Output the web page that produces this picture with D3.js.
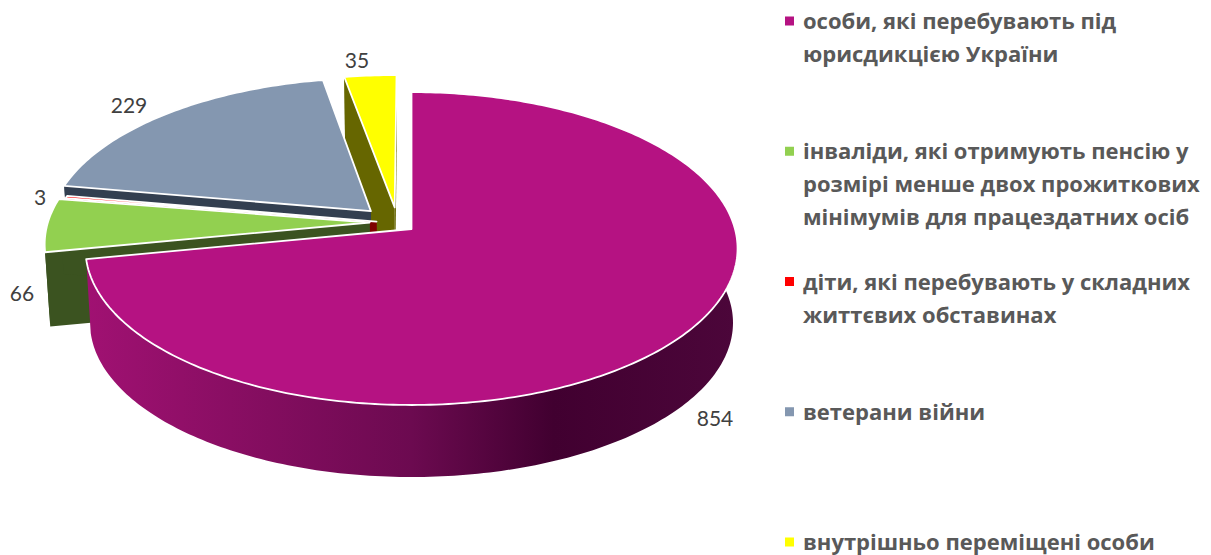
<html>
  <meta charset="utf-8" />
  <script src="https://d3js.org/d3.v7.min.js"></script>
  <style>
    body { margin: 0; background: #fff; }
    svg { display: block; }
  </style>
  <body>
    <div id="my_dataviz"></div>

    <script>
      const categories = [
        ["особи, які перебувають під", "юрисдикцією України"],
        ["інваліди, які отримують пенсію у", "розмірі менше двох прожиткових", "мінімумів для працездатних осіб"],
        ["діти, які перебувають у складних", "життєвих обставинах"],
        ["ветерани війни"],
        ["внутрішньо переміщені особи"],
      ];
      const values = [854, 66, 3, 229, 35];
      const topColors = ["#b51282", "#92d050", "#ff0000", "#8497b0", "#ffff00"];
      const wallColors = ["#6d0b50", "#3b5320", "#7f0000", "#333f50", "#666600"];

      // where the value labels sit, by slice
      const labelX = [715, 22, 40, 129, 357];
      const labelY = [418, 293, 197, 105, 60];

      const width = 1211;
      const height = 555;

      // the tilted disc: a circle seen in perspective
      const cx = 411.5;
      const cy = 229;
      const R = 323.5;
      const q = 154;
      const k = 0.125;

      // bottom face is a bit further from the viewer
      const bottomScale = 0.986;
      const bottomDrop = 74.5;

      // explosion, slices move away from this centre (main slice stays put)
      const pieX = -0.045;
      const pieY = -0.058;
      const explode = 0.085;
      // small corrections per slice, the fit is not perfect
      const nudgeX = [0, 0, 0.02, -0.022, 0];
      const nudgeY = [0, 0.014, 0.024, 0, 0];

      function project(x, y, bottom) {
        const w = 1 - k * y;
        const s = bottom ? bottomScale : 1;
        return [
          cx + (s * R * x) / w,
          cy + (s * q * y) / w + (bottom ? bottomDrop : 0),
        ];
      }

      var arcs = d3.pie().sort(null)(values);

      function sliceOffset(d, i) {
        if (i === 0) return [0, 0];
        const mid = (d.startAngle + d.endAngle) / 2;
        return [
          pieX + explode * Math.sin(mid) + nudgeX[i],
          pieY - explode * Math.cos(mid) + nudgeY[i],
        ];
      }

      // points along the rim of a slice, from its start angle to its end angle
      function rim(d, i, bottom) {
        const off = sliceOffset(d, i);
        const n = Math.max(2, Math.ceil((d.endAngle - d.startAngle) * 60));
        return d3.range(n + 1).map(function (j) {
          const a = d.startAngle + ((d.endAngle - d.startAngle) * j) / n;
          return project(off[0] + Math.sin(a), off[1] - Math.cos(a), bottom);
        });
      }

      function apex(d, i, bottom) {
        const off = sliceOffset(d, i);
        return project(off[0], off[1], bottom);
      }

      const line = d3.line().curve(d3.curveLinearClosed);

      var svg = d3
        .select("#my_dataviz")
        .append("svg")
        .attr("width", width)
        .attr("height", height);

      var grad = svg
        .append("defs")
        .append("linearGradient")
        .attr("id", "mainWall")
        .attr("gradientUnits", "userSpaceOnUse")
        .attr("x1", 88)
        .attr("x2", 735)
        .attr("y1", 0)
        .attr("y2", 0);
      grad.append("stop").attr("offset", "0").attr("stop-color", "#a01172");
      grad.append("stop").attr("offset", "0.5").attr("stop-color", "#6c0a50");
      grad.append("stop").attr("offset", "0.72").attr("stop-color", "#410030");
      grad.append("stop").attr("offset", "1").attr("stop-color", "#4c063a");

      // paint from the back to the front
      const order = [4, 3, 2, 1, 0];
      order.forEach(function (i) {
        const d = arcs[i];
        const g = svg.append("g");
        const topRim = rim(d, i, false);
        const botRim = rim(d, i, true);
        const wallFill = i === 0 ? "url(#mainWall)" : wallColors[i];

        g.append("path")
          .attr("d", line(topRim.concat(botRim.slice().reverse())))
          .attr("fill", wallFill);

        if (i !== 0) {
          // the two cut faces
          [0, topRim.length - 1].forEach(function (e) {
            g.append("path")
              .attr("d", line([topRim[e], apex(d, i, false), apex(d, i, true), botRim[e]]))
              .attr("fill", wallFill);
          });
        }

        g.append("path")
          .attr("d", line([apex(d, i, false)].concat(topRim)))
          .attr("fill", topColors[i])
          .attr("stroke", "#fff")
          .attr("stroke-width", 1.8)
          .attr("stroke-linejoin", "round");
      });

      // value labels
      svg
        .append("g")
        .selectAll("text")
        .data(values)
        .enter()
        .append("text")
        .attr("x", (d, i) => labelX[i])
        .attr("y", (d, i) => labelY[i])
        .attr("dy", "0.36em")
        .attr("text-anchor", "middle")
        .attr("font-family", "Lato, 'Open Sans', sans-serif")
        .attr("font-size", 21)
        .attr("fill", "#404040")
        .text((d) => d);

      // legend
      var legendY = d3
        .scalePoint()
        .domain(d3.range(categories.length))
        .range([21, 542]);

      var legend = svg
        .append("g")
        .selectAll("g")
        .data(categories)
        .enter()
        .append("g")
        .attr("transform", (d, i) => "translate(785," + legendY(i) + ")");

      legend
        .append("rect")
        .attr("y", -4.5)
        .attr("width", 9)
        .attr("height", 9)
        .attr("fill", (d, i) => topColors[i]);

      legend
        .selectAll("text")
        .data((d) => d)
        .enter()
        .append("text")
        .attr("x", 18)
        .attr("y", (d, j) => 8 + j * 33)
        .attr("font-family", "'Open Sans', sans-serif")
        .attr("font-weight", 700)
        .attr("font-size", 22)
        .attr("fill", "#595959")
        .text((d) => d);
    </script>
  </body>
</html>
